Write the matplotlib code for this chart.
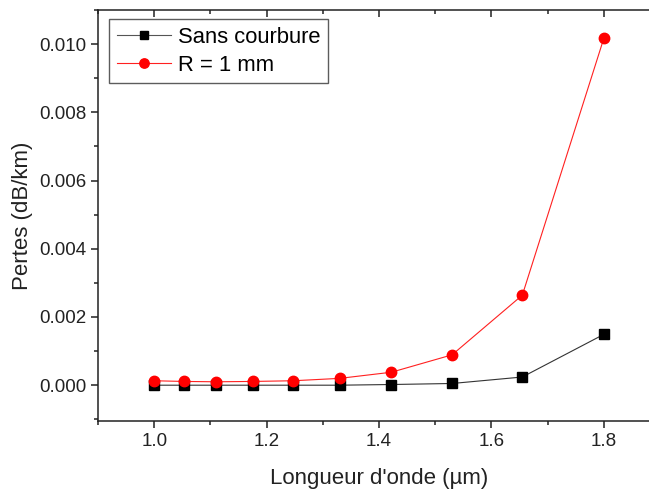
import numpy as np
import matplotlib.pyplot as plt
from matplotlib.ticker import MultipleLocator

plt.rcParams['font.family'] = ['Liberation Sans', 'DejaVu Sans']

# longueurs d'onde (um) et pertes (dB/km)
wavelength = [1.0, 1.053, 1.11, 1.175, 1.247, 1.33, 1.422, 1.53, 1.655, 1.8]
loss_straight = [0.0, 0.0, 0.0, 0.0, 0.0, 0.0, 0.00002, 0.00005, 0.00024, 0.00149]
loss_r1mm = [0.00013, 0.00011, 0.0001, 0.00011, 0.00013, 0.0002, 0.00038, 0.00089, 0.00264, 0.01017]
labels = ["Sans courbure", "R = 1 mm"]

fig = plt.figure(figsize=(6.49, 4.90), dpi=100)
# the plot frame runs past the right edge of the figure
ax = fig.add_axes([0.151, 0.1408, 0.866, 0.8388])

ax.plot(wavelength, loss_straight, color='#333333', lw=0.8, marker='s', ms=7,
        mfc='black', mec='black', label=labels[0])
ax.plot(wavelength, loss_r1mm, color='#ff2020', lw=0.8, marker='o', ms=7.5,
        mfc='red', mec='red', label=labels[1])

ax.set_xlim(0.9, 1.9)
ax.set_ylim(-0.00105, 0.011)
ax.xaxis.set_major_locator(MultipleLocator(0.2))
ax.xaxis.set_minor_locator(MultipleLocator(0.1))
ax.yaxis.set_major_locator(MultipleLocator(0.002))
ax.yaxis.set_minor_locator(MultipleLocator(0.001))
ax.xaxis.set_major_formatter(plt.FormatStrFormatter('%.1f'))
ax.yaxis.set_major_formatter(plt.FormatStrFormatter('%.3f'))

ax.tick_params(axis='both', which='both', direction='out', labelsize=13.5, colors='#222222', width=1.1)
ax.tick_params(which='major', length=5)
ax.tick_params(which='minor', length=3)
ax.tick_params(axis='x', which='both', top=True, labeltop=False)
for t in ax.xaxis.get_ticklines(minor=False)[1::2] + ax.xaxis.get_ticklines(minor=True)[1::2]:
    t.set_marker(3)  # ticks on the top spine point down into the plot

for s in ax.spines.values():
    s.set_linewidth(1.1)
    s.set_color('#222222')

ax.set_xlabel("Longueur d'onde (µm)", fontsize=16, color='#222222', labelpad=13)
ax.set_ylabel("Pertes (dB/km)", fontsize=16, color='#222222', labelpad=4)

leg = ax.legend(loc='upper left', bbox_to_anchor=(0.012, 0.988), fontsize=15.8,
                frameon=True, fancybox=False, edgecolor='#333333',
                handlelength=2.45, handletextpad=0.35, borderpad=0.35,
                labelspacing=0.3, borderaxespad=0.2, markerscale=0.9)
leg.get_frame().set_linewidth(1.0)
leg.get_lines()[0].set_color('#555555')

fig.savefig('out.png', dpi=100)
